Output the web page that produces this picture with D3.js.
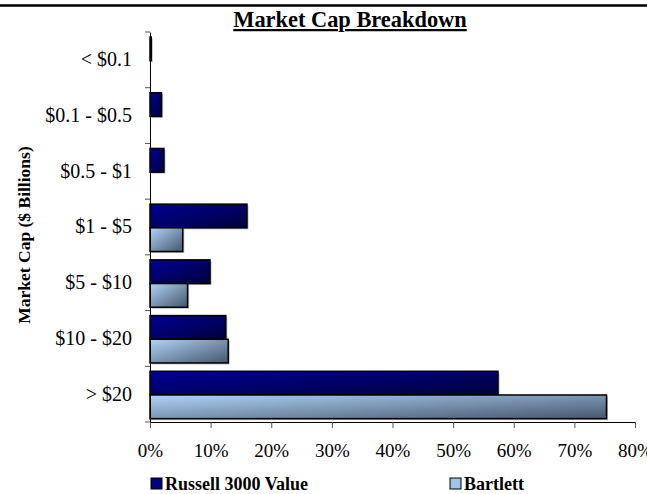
<!DOCTYPE html>
<html>
<head>
<meta charset="utf-8">
<script src="https://cdn.jsdelivr.net/npm/d3@7"></script>
<style>
  body { margin: 0; background: #fff; }
  svg { display: block; font-family: "Liberation Serif", "Times New Roman", serif; }
</style>
</head>
<body>
<svg id="chart" width="647" height="494"></svg>
<script>
// market cap buckets, top to bottom
var categories = ["< $0.1", "$0.1 - $0.5", "$0.5 - $1", "$1 - $5", "$5 - $10", "$10 - $20", "> $20"];
var seriesNames = ["Russell 3000 Value", "Bartlett"];
var russellValues = [0.2, 1.9, 2.3, 16.0, 9.9, 12.5, 57.4];
var bartlettValues = [0, 0, 0, 5.4, 6.2, 12.9, 75.3];
var xTicks = [0, 10, 20, 30, 40, 50, 60, 70, 80];

var svg = d3.select("#chart");
var plot = { left: 150, right: 635, top: 32, bottom: 422 };

var x = d3.scaleLinear().domain([0, 80]).range([plot.left, plot.right]);
var y = d3.scaleBand().domain(categories).range([plot.top, plot.bottom]).padding(0);
var sub = d3.scaleBand().domain(seriesNames)
  .range([y.bandwidth() * 0.09, y.bandwidth() * 0.94]).padding(0);

// gradients
var defs = svg.append("defs");
var g1 = defs.append("linearGradient").attr("id", "gDark")
  .attr("x1", 0).attr("y1", 0).attr("x2", 1).attr("y2", 1);
g1.append("stop").attr("offset", "0%").attr("stop-color", "#000094");
g1.append("stop").attr("offset", "100%").attr("stop-color", "#00003c");
var g2 = defs.append("linearGradient").attr("id", "gLight")
  .attr("x1", 0).attr("y1", 0).attr("x2", 1).attr("y2", 1);
g2.append("stop").attr("offset", "0%").attr("stop-color", "#b0d4f8");
g2.append("stop").attr("offset", "100%").attr("stop-color", "#46566c");
var fills = { "Russell 3000 Value": "url(#gDark)", "Bartlett": "url(#gLight)" };
var legendFills = { "Russell 3000 Value": "#000080", "Bartlett": "#a0c4ea" };

// top rule
svg.append("line")
  .attr("x1", 0).attr("x2", 647).attr("y1", 5.5).attr("y2", 5.5)
  .attr("stroke", "#000").attr("stroke-width", 2.5);

// title
svg.append("text")
  .attr("x", 350).attr("y", 27)
  .attr("text-anchor", "middle")
  .style("font-size", "22.4px").style("font-weight", "bold")
  .style("text-decoration", "underline")
  .text("Market Cap Breakdown");

// bars
var rows = categories.map(function (c, i) {
  return { cat: c, vals: [
    { name: seriesNames[0], v: russellValues[i] },
    { name: seriesNames[1], v: bartlettValues[i] }
  ] };
});

var groups = svg.selectAll("g.row")
  .data(rows)
  .enter()
  .append("g")
  .attr("class", "row")
  .attr("transform", function (d) { return "translate(0," + y(d.cat) + ")"; });

var bars = groups.selectAll("g.bar")
  .data(function (d) { return d.vals.filter(function (b) { return b.v > 0; }); })
  .enter()
  .append("g")
  .attr("class", "bar");

// light shadow
bars.append("rect")
  .attr("x", x(0) + 1.5)
  .attr("y", function (d) { return sub(d.name) + 1.5; })
  .attr("width", function (d) { return x(d.v) - x(0); })
  .attr("height", sub.bandwidth())
  .attr("fill", "#b8b8b8");

bars.append("rect")
  .attr("x", x(0))
  .attr("y", function (d) { return sub(d.name); })
  .attr("width", function (d) { return x(d.v) - x(0); })
  .attr("height", sub.bandwidth())
  .attr("fill", function (d) { return fills[d.name]; })
  .attr("stroke", "#000")
  .attr("stroke-width", 1.5);

// x axis
var xAxis = svg.append("g")
  .attr("transform", "translate(0," + plot.bottom + ")")
  .call(d3.axisBottom(x).tickValues(xTicks)
    .tickFormat(function (d) { return d + "%"; })
    .tickSizeInner(6).tickSizeOuter(0).tickPadding(16));
xAxis.select(".domain").attr("stroke", "#000");
xAxis.selectAll(".tick line").attr("stroke", "#555");
xAxis.selectAll("text")
  .style("font-family", "Liberation Serif, serif")
  .style("font-size", "19px").attr("fill", "#000");

// y axis line + boundary ticks
var yAxis = svg.append("g")
  .attr("transform", "translate(" + plot.left + ",0)")
  .call(d3.axisLeft(y).tickSize(0).tickPadding(18));
yAxis.select(".domain").attr("stroke", "#000");
yAxis.selectAll("text")
  .style("font-family", "Liberation Serif, serif")
  .style("font-size", "20px").attr("fill", "#000");

var bounds = categories.map(function (c) { return y(c); }).concat([y.range()[1]]);
svg.selectAll("line.ytick")
  .data(bounds)
  .enter()
  .append("line")
  .attr("class", "ytick")
  .attr("x1", plot.left - 5).attr("x2", plot.left)
  .attr("y1", function (d) { return d; }).attr("y2", function (d) { return d; })
  .attr("stroke", "#555");

// y title
svg.append("text")
  .attr("transform", "translate(30,235) rotate(-90)")
  .attr("text-anchor", "middle")
  .style("font-size", "17.5px").style("font-weight", "bold")
  .text("Market Cap ($ Billions)");

// legend
var legendX = [151, 450];
var legend = svg.selectAll("g.legend")
  .data(seriesNames)
  .enter()
  .append("g")
  .attr("class", "legend")
  .attr("transform", function (d, i) { return "translate(" + legendX[i] + ",478)"; });
legend.append("rect")
  .attr("x", 0).attr("y", 0).attr("width", 11).attr("height", 11)
  .attr("fill", function (d) { return legendFills[d]; })
  .attr("stroke", "#000").attr("stroke-width", 1);
legend.append("text")
  .attr("x", 14).attr("y", 12)
  .style("font-size", "18px").style("font-weight", "bold")
  .text(function (d) { return d; });
</script>
</body>
</html>
